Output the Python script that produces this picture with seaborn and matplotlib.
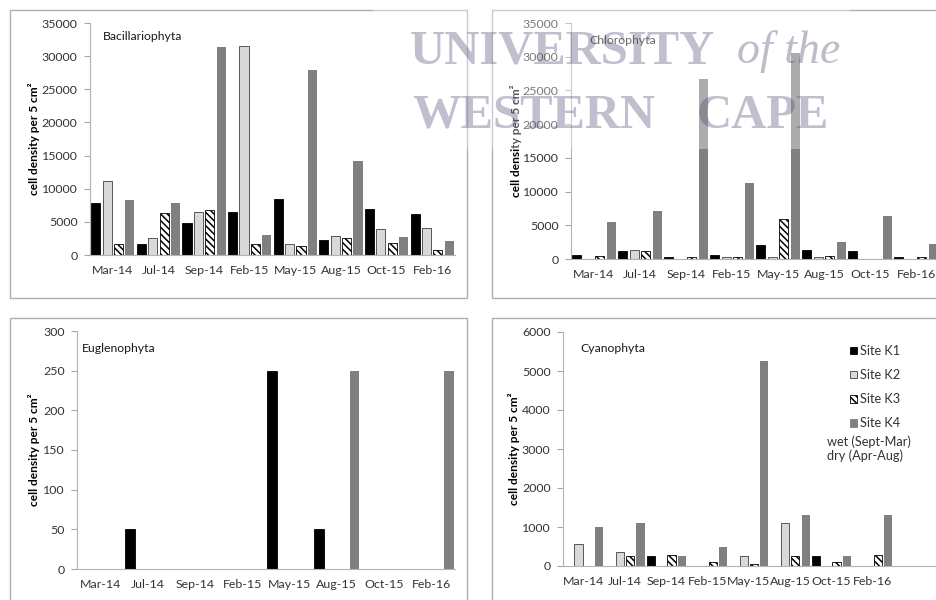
import numpy as np
import pandas as pd
import matplotlib
matplotlib.use("Agg")
import matplotlib.pyplot as plt
import seaborn as sns
from matplotlib.patches import Patch, Rectangle

# ---------------- data ----------------
months = ["Mar-14", "Jul-14", "Sep-14", "Feb-15", "May-15", "Aug-15", "Oct-15", "Feb-16"]
sites = ["Site K1", "Site K2", "Site K3", "Site K4"]

bac_k1 = [7800, 1600, 4800, 6500, 8500, 2200, 6950, 6200]
bac_k2 = [11100, 2600, 6450, 31500, 1650, 2900, 3900, 4100]
bac_k3 = [1600, 6400, 6800, 1650, 1400, 2600, 1800, 700]
bac_k4 = [8250, 7800, 31400, 3000, 27950, 14250, 2650, 2050]

chl_k1 = [550, 1250, 300, 550, 2070, 1330, 1250, 300]
chl_k2 = [0, 1300, 0, 300, 300, 300, 0, 0]
chl_k3 = [450, 1250, 300, 250, 5900, 500, 0, 300]
chl_k4 = [5500, 7050, 26750, 11300, 30550, 2500, 6450, 2200]

eug_k1 = [0, 50, 0, 0, 250, 50, 0, 0]
eug_k2 = [0, 0, 0, 0, 0, 0, 0, 0]
eug_k3 = [0, 0, 0, 0, 0, 0, 0, 0]
eug_k4 = [0, 0, 0, 0, 0, 250, 0, 250]

cya_k1 = [0, 0, 250, 0, 0, 0, 250, 0]
cya_k2 = [555, 350, 0, 0, 250, 1110, 0, 0]
cya_k3 = [0, 255, 290, 95, 60, 265, 95, 290]
cya_k4 = [1000, 1090, 250, 485, 5250, 1300, 250, 1300]

panel_titles = ["Bacillariophyta", "Chlorophyta", "Euglenophyta", "Cyanophyta"]
ylabel_text = "cell density per 5 cm²"
season_note = "wet (Sept-Mar)\ndry (Apr-Aug)"


def long_df(k1, k2, k3, k4):
    rows = []
    for s, vals in zip(sites, [k1, k2, k3, k4]):
        for m, v in zip(months, vals):
            rows.append((m, s, v))
    return pd.DataFrame(rows, columns=["month", "site", "value"])


# ---------------- style ----------------
sns.set_style("white")
plt.rcParams["font.family"] = ["Lato", "DejaVu Sans"]
plt.rcParams["hatch.linewidth"] = 1.1
plt.rcParams["hatch.color"] = "black"

palette = {"Site K1": "#000000", "Site K2": "#d9d9d9", "Site K3": "#ffffff", "Site K4": "#808080"}
edges = {"Site K1": "#000000", "Site K2": "#404040", "Site K3": "#000000", "Site K4": "#808080"}
lws = {"Site K1": 0.6, "Site K2": 0.6, "Site K3": 0.6, "Site K4": 0.0}
hatches = {"Site K1": "", "Site K2": "", "Site K3": "\\" * 5, "Site K4": ""}

W, H = 936, 600
fig = plt.figure(figsize=(W / 100, H / 100), dpi=100)
fig.patch.set_facecolor("white")

YTICK_FS = 8.9
XTICK_FS = 8.9


def fx(px):
    return px / W


def fy(py):
    return 1 - py / H


def add_ax(l, r, t, b):
    return fig.add_axes([fx(l), fy(b), (r - l) / W, (b - t) / H])


def panel(ax, df, ymax, ystep, xmax, label_x_px, l_px, r_px):
    sns.barplot(data=df, x="month", y="value", hue="site", order=months,
                hue_order=sites, palette=palette, width=1.0, gap=0.2,
                errorbar=None, legend=False, saturation=1, ax=ax)
    for cont, site in zip(ax.containers, sites):
        for bar in cont:
            bar.set_edgecolor(edges[site])
            bar.set_linewidth(lws[site])
            bar.set_hatch(hatches[site])
            if bar.get_height() == 0:
                bar.set_visible(False)
    ax.set_xlim(-0.5, xmax)
    ax.set_ylim(0, ymax)
    ax.set_yticks(np.arange(0, ymax + 1, ystep))
    ax.set_xticks(range(len(months)))
    ax.set_xticklabels(months)
    ax.set_xticks(np.arange(-0.5, len(months), 1.0), minor=True)
    ax.tick_params(axis="x", which="major", length=0, pad=7, labelsize=XTICK_FS, labelcolor="#333333")
    ax.tick_params(axis="x", which="minor", length=5, color="#a6a6a6", width=0.8, direction="out")
    ax.tick_params(axis="y", which="major", length=4, color="#a6a6a6", width=0.8,
                   direction="out", pad=5, labelsize=YTICK_FS, labelcolor="#333333")
    ax.tick_params(left=True, bottom=True)
    for sp in ["top", "right"]:
        ax.spines[sp].set_visible(False)
    for sp in ["left", "bottom"]:
        ax.spines[sp].set_color("#b3b3b3")
        ax.spines[sp].set_linewidth(0.8)
    ax.set_xlabel("")
    ax.set_ylabel(ylabel_text, fontweight="bold", fontsize=8.6, color="black")
    ax.yaxis.set_label_coords((label_x_px - l_px) / (r_px - l_px), 0.5)
    ax.patch.set_alpha(0)


# chart-area borders (Excel style)
for (x0, y0, x1, y1) in [(10, 10, 467, 298), (492, 10, 1000, 298),
                         (10, 318, 467, 700), (492, 318, 1000, 700)]:
    fig.add_artist(Rectangle((fx(x0), fy(y1)), (x1 - x0) / W, (y1 - y0) / H,
                             transform=fig.transFigure, fill=False,
                             edgecolor="#b0b0b0", linewidth=1.0, zorder=0.5))

# panels
ax1 = add_ax(90, 455, 23, 255)
panel(ax1, long_df(bac_k1, bac_k2, bac_k3, bac_k4), 35000, 5000, 7.5, 40, 90, 455)

ax2 = add_ax(571, 939, 23, 259)
panel(ax2, long_df(chl_k1, chl_k2, chl_k3, chl_k4), 35000, 5000, 7.5, 522, 571, 939)

ax3 = add_ax(77, 455, 331, 569)
panel(ax3, long_df(eug_k1, eug_k2, eug_k3, eug_k4), 300, 50, 7.5, 40, 77, 455)

ax4 = add_ax(563, 938, 332, 566)
panel(ax4, long_df(cya_k1, cya_k2, cya_k3, cya_k4), 6000, 1000, 8.58, 520, 563, 938)

# panel titles
for (tx, ty), t in zip([(103, 36), (589, 40), (82, 348), (580, 349)], panel_titles):
    fig.text(fx(tx), fy(ty), t, fontsize=8.8, color="#1a1a1a", ha="left", va="center")

# legend in Cyanophyta panel
handles = [Patch(facecolor=palette[s], edgecolor=edges[s] if lws[s] > 0 else palette[s],
                 hatch=hatches[s], linewidth=0.6) for s in sites]
ax4.legend(handles, sites, loc="upper left", bbox_to_anchor=(fx(850), fy(345)),
           bbox_transform=fig.transFigure, frameon=False, fontsize=9.2,
           handlelength=0.55, handleheight=0.55, handletextpad=0.25,
           labelspacing=0.95, borderpad=0, borderaxespad=0, labelcolor="#333333")
fig.text(fx(827), fy(435), season_note, fontsize=9.2, color="#333333",
         ha="left", va="top", linespacing=1.2)

# watermark
fig.add_artist(Rectangle((fx(373), fy(149)), (850 - 373) / W, 149 / H,
                         transform=fig.transFigure, facecolor="white", alpha=0.35,
                         edgecolor="none", zorder=9))
wm = dict(family="Liberation Serif", color="#46466e", alpha=0.34, zorder=10,
          va="baseline", fontweight="bold")
fig.text(fx(410), fy(63), "UNIVERSITY", fontsize=35, ha="left", **wm)
fig.text(fx(737), fy(63), "of the", fontsize=33, style="italic", ha="left",
         family="Liberation Serif", color="#46466e", alpha=0.36, zorder=10, va="baseline")
fig.text(fx(412), fy(128), "WESTERN", fontsize=35, ha="left", **wm)
fig.text(fx(697), fy(128), "CAPE", fontsize=35, ha="left", **wm)

fig.savefig("out.png", dpi=100)
